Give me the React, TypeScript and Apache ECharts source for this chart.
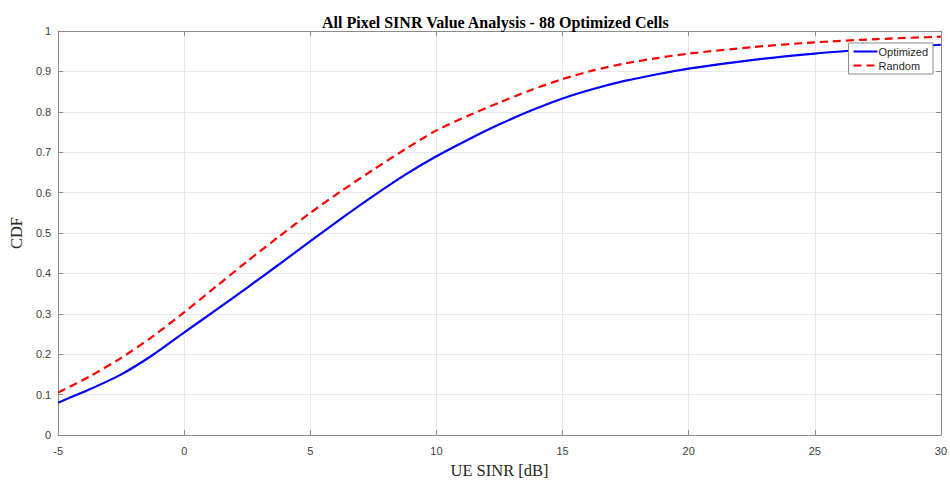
import React, { useEffect, useRef } from "react";
import * as echarts from "echarts";

const sinrDb = [-5, -3.75, -2.5, -1.25, 0, 1.25, 2.5, 3.75, 5, 6.25, 7.5, 8.75, 10, 11.25, 12.5, 13.75, 15, 16.25, 17.5, 18.75, 20, 22.5, 25, 27.5, 30];
const optimizedCdf = [0.080, 0.113, 0.150, 0.198, 0.254, 0.309, 0.365, 0.422, 0.480, 0.537, 0.592, 0.644, 0.690, 0.731, 0.769, 0.803, 0.833, 0.857, 0.877, 0.893, 0.907, 0.928, 0.944, 0.956, 0.966];
const randomCdf = [0.105, 0.145, 0.191, 0.244, 0.304, 0.367, 0.430, 0.491, 0.550, 0.605, 0.657, 0.707, 0.754, 0.790, 0.823, 0.854, 0.881, 0.903, 0.920, 0.933, 0.944, 0.960, 0.972, 0.980, 0.986];
const seriesNames = ["Optimized", "Random"];
const titleText = "All Pixel SINR Value Analysis - 88 Optimized Cells";
const xLabel = "UE SINR [dB]";
const yLabel = "CDF";

const axisColor = "#8a8a8a";
const labelColor = "#404040";

export default function App() {
  const ref = useRef<HTMLDivElement>(null);
  useEffect(() => {
    if (!ref.current) return;
    const chart = echarts.init(ref.current, null, { renderer: "svg" });
    const fmt = (v: number) => String(+v.toFixed(1));
    const tickCommon = { show: true, inside: true, length: 5, lineStyle: { color: axisColor, width: 1 } };
    const lineCommon = { show: true, onZero: false, lineStyle: { color: axisColor, width: 1 } };
    chart.setOption({
      animation: false,
      backgroundColor: "#ffffff",
      title: {
        text: titleText,
        left: 317,
        top: 9,
        textStyle: { fontFamily: "Liberation Serif", fontWeight: "bold", fontSize: 16, color: "#000" },
      },
      grid: { left: 53, right: 7, top: 31, bottom: 40, containLabel: false },
      legend: {
        data: seriesNames,
        orient: "vertical",
        right: 17,
        top: 43,
        itemWidth: 24,
        itemHeight: 10,
        itemGap: 3,
        padding: [3, 5, 3, 4],
        backgroundColor: "#ffffff",
        borderColor: axisColor,
        borderWidth: 1,
        itemStyle: { opacity: 0 },
        textStyle: { fontFamily: "Liberation Sans", fontSize: 11, color: "#262626", padding: [0, 0, 0, -4] },
      },
      xAxis: [
        {
          type: "value",
          min: -5,
          max: 30,
          interval: 5,
          position: "bottom",
          name: xLabel,
          nameLocation: "middle",
          nameGap: 27,
          nameTextStyle: { fontFamily: "Liberation Serif", fontSize: 16.5, color: "#262626" },
          axisLine: lineCommon,
          axisTick: tickCommon,
          axisLabel: { color: labelColor, fontFamily: "Liberation Sans", fontSize: 11, margin: 10, formatter: fmt },
          splitLine: { show: true, lineStyle: { color: "#e8e8e8", width: 1 } },
        },
        {
          type: "value",
          min: -5,
          max: 30,
          interval: 5,
          position: "top",
          axisLine: lineCommon,
          axisTick: tickCommon,
          axisLabel: { show: false },
          splitLine: { show: false },
        },
      ],
      yAxis: [
        {
          type: "value",
          min: 0,
          max: 1,
          interval: 0.1,
          position: "left",
          name: yLabel,
          nameLocation: "middle",
          nameGap: 33,
          nameRotate: 90,
          nameTextStyle: { fontFamily: "Liberation Serif", fontSize: 16.5, color: "#262626" },
          axisLine: lineCommon,
          axisTick: tickCommon,
          axisLabel: { color: labelColor, fontFamily: "Liberation Sans", fontSize: 11, margin: 7, formatter: fmt },
          splitLine: { show: true, lineStyle: { color: "#e8e8e8", width: 1 } },
        },
        {
          type: "value",
          min: 0,
          max: 1,
          interval: 0.1,
          position: "right",
          axisLine: lineCommon,
          axisTick: tickCommon,
          axisLabel: { show: false },
          splitLine: { show: false },
        },
      ],
      series: [
        {
          name: seriesNames[0],
          type: "line",
          smooth: 0.25,
          showSymbol: false,
          symbol: "none",
          data: sinrDb.map((x, i) => [x, optimizedCdf[i]]),
          lineStyle: { color: "#0000ff", width: 2.2 },
          itemStyle: { color: "#0000ff" },
        },
        {
          name: seriesNames[1],
          type: "line",
          smooth: 0.25,
          showSymbol: false,
          symbol: "none",
          data: sinrDb.map((x, i) => [x, randomCdf[i]]),
          lineStyle: { color: "#ff0000", width: 2.2, type: [8, 5] },
          itemStyle: { color: "#ff0000" },
        },
      ],
    });
    return () => chart.dispose();
  }, []);
  return <div ref={ref} style={{ width: 950, height: 484, position: "absolute", left: 0, top: 0 }} />;
}
